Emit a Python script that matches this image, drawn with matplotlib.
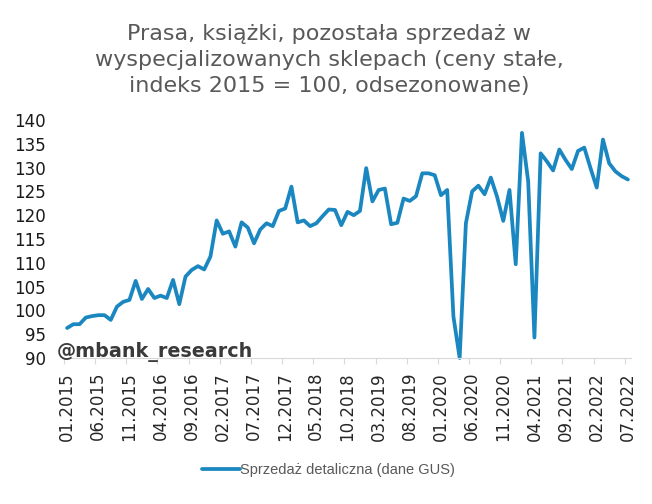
import matplotlib
matplotlib.use("Agg")
import matplotlib.pyplot as plt
import numpy as np

plt.rcParams["font.family"] = ["DejaVu Sans"]

values = [96.3, 97.1, 97.1, 98.5, 98.8, 99.0, 99.0, 98.0, 100.8, 101.8,
          102.2, 106.2, 102.4, 104.5, 102.6, 103.1, 102.6, 106.4, 101.3, 107.1,
          108.5, 109.3, 108.6, 111.3, 118.9, 116.1, 116.6, 113.4, 118.5, 117.4,
          114.1, 117.0, 118.3, 117.7, 120.9, 121.4, 126.0, 118.5, 118.9, 117.7,
          118.3, 119.8, 121.2, 121.1, 117.9, 120.7, 120.0, 120.9, 129.9, 122.9,
          125.3, 125.6, 118.1, 118.4, 123.5, 123.0, 124.0, 128.8, 128.8, 128.4,
          124.2, 125.3, 98.7, 90.0, 118.3, 125.0, 126.2, 124.4, 127.9, 123.9,
          118.8, 125.3, 109.7, 137.3, 127.1, 94.3, 133.0, 131.3, 129.4, 133.8,
          131.6, 129.7, 133.5, 134.2, 129.9, 125.8, 135.9, 130.9, 129.2, 128.2,
          127.5]
labels = [f"{(i % 12) + 1:02d}.{2015 + i // 12}" for i in range(len(values))]
yticks = [90, 95, 100, 105, 110, 115, 120, 125, 130, 135, 140]

title = "Prasa, książki, pozostała sprzedaż w\nwyspecjalizowanych sklepach (ceny stałe,\nindeks 2015 = 100, odsezonowane)"
series_name = "Sprzedaż detaliczna (dane GUS)"

W, H = 652, 504
fig = plt.figure(figsize=(W / 100, H / 100), dpi=100)
x0, x1, ytop, ybot = 64, 631, 120, 358
ax = fig.add_axes([x0 / W, 1 - ybot / H, (x1 - x0) / W, (ybot - ytop) / H])

x = np.arange(len(values))
line, = ax.plot(x, values, color="#1B87C0", lw=2.7, solid_joinstyle="round",
                solid_capstyle="round", clip_on=False, label=series_name)

ax.set_xlim(-0.5, len(values) - 0.5)
ax.set_ylim(90, 140)
ax.set_yticks(yticks)
ax.set_yticklabels([str(v) for v in yticks], fontsize=12, color="#1a1a1a")

ax.set_xticks(x[::5])
ax.set_xticklabels(labels[::5], rotation=90, fontsize=12, color="#262626")
ax.set_xticks(np.arange(-0.5, len(values), 5), minor=True)
ax.tick_params(axis="x", which="major", length=0, pad=10)
ax.tick_params(axis="x", which="minor", length=4, color="#d9d9d9", width=0.8)
ax.tick_params(axis="y", length=0, pad=13)

for s in ["top", "right", "left"]:
    ax.spines[s].set_visible(False)
ax.spines["bottom"].set_color("#d9d9d9")
ax.spines["bottom"].set_linewidth(0.8)

fig.text(329 / W, 1 - 60 / H, title, ha="center", va="center", fontsize=16,
         color="#595959", linespacing=1.36)

fig.text(57 / W, 1 - 352 / H, "@mbank_research", ha="left", va="center",
         fontsize=13.8, fontweight="bold", color="#3a3a3a")

leg = fig.legend(handles=[line], loc="center", bbox_to_anchor=(328 / W, 1 - 470 / H),
                 frameon=False, handlelength=2.6, handletextpad=0.0,
                 prop={"family": ["Liberation Sans Narrow", "Liberation Sans"], "size": 10.5})
for t in leg.get_texts():
    t.set_color("#595959")

fig.savefig("out.png", dpi=100)
